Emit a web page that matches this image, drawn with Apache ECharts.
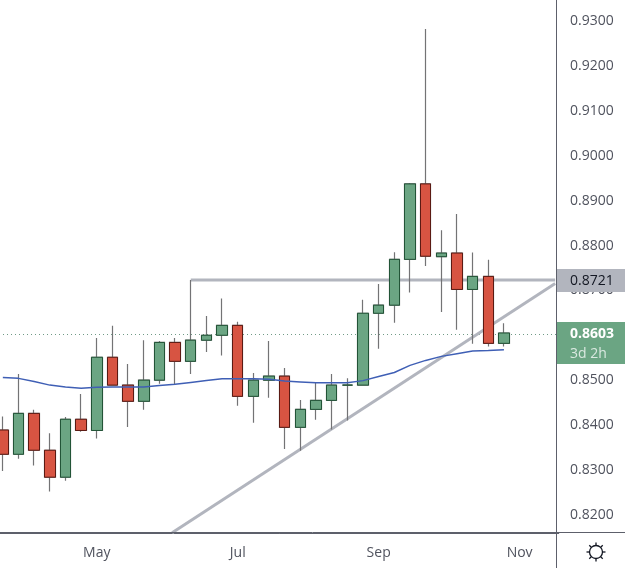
<!DOCTYPE html>
<html>
<head>
<meta charset="utf-8">
<style>html,body{margin:0;padding:0;background:#fff}#c{width:625px;height:568px}</style>
<script src="https://cdn.jsdelivr.net/npm/echarts@6/dist/echarts.min.js"></script>
</head>
<body>
<div id="c"></div>
<script>
const weeks = ["Mar 21","Mar 28","Apr 4","Apr 11","Apr 18","Apr 25","May 2","May 9","May 16","May 23","May 30","Jun 6","Jun 13","Jun 20","Jun 27","Jul 4","Jul 11","Jul 18","Jul 25","Aug 1","Aug 8","Aug 15","Aug 22","Aug 29","Sep 5","Sep 12","Sep 19","Sep 26","Oct 3","Oct 10","Oct 17","Oct 24","Oct 31","Nov 7","Nov 14","Nov 21"];
const monthTicks = {"May 2":"May","Jul 4":"Jul","Sep 5":"Sep","Nov 7":"Nov"};
const priceTicks = [0.82,0.83,0.84,0.85,0.86,0.87,0.88,0.89,0.90,0.91,0.92,0.93];

const opens  = [.8387,.8333,.8424,.8342,.8282,.8411,.8386,.8549,.8487,.8451,.8498,.8582,.8540,.8587,.8598,.8620,.8462,.8498,.8507,.8393,.8433,.8453,.8487,.8487,.8647,.8665,.8767,.8935,.8773,.8781,.8700,.8729,.8580];
const closes = [.8333,.8424,.8342,.8282,.8411,.8386,.8549,.8487,.8451,.8498,.8582,.8540,.8587,.8598,.8620,.8462,.8498,.8507,.8393,.8433,.8453,.8487,.8487,.8647,.8665,.8767,.8935,.8774,.8781,.8700,.8729,.8580,.8603];
const lows   = [.8296,.8323,.8308,.8250,.8274,.8383,.8368,.8487,.8394,.8432,.8490,.8487,.8512,.8561,.8553,.8441,.8403,.8459,.8345,.8341,.8410,.8388,.8408,.8487,.8568,.8626,.8693,.8752,.8650,.8610,.8579,.8573,.8573];
const highs  = [.8417,.8512,.8432,.8380,.8416,.8467,.8592,.8619,.8534,.8587,.8585,.8592,.8721,.8641,.8680,.8628,.8514,.8585,.8525,.8454,.8492,.8512,.8502,.8677,.8712,.8783,.8937,.9280,.8832,.8868,.8782,.8766,.8625];
const movingAvg = [.8504,.8502,.8495,.8487,.8483,.8480,.8482,.8483,.8483,.8483,.8486,.8489,.8493,.8497,.8501,.8501,.8501,.8500,.8496,.8494,.8492,.8492,.8492,.8497,.8506,.8515,.8531,.8542,.8551,.8557,.8563,.8564,.8566];
const resistanceX = [12,35.27];
const resistanceY = [.8721,.8721];
const trendX = [10.81,35.27];
const trendY = [.8158,.8713];
const lastPrice = 0.8603;
const resistanceLabel = "0.8721";
const lastLabel = "0.8603";
const countdownLabel = "3d 2h";

const FONT = '"Open Sans", sans-serif';
const AXIS = '#50535E';
const FRAME = '#5d606b';
const GREY = '#B2B5BE';
const GREEN = '#6BA583';
const RED = '#D75442';

const ohlc = opens.map((o,i)=>[o,closes[i],lows[i],highs[i]]);
const bodies = opens.map((o,i)=>[o,closes[i],Math.min(o,closes[i]),Math.max(o,closes[i])]);
const pairs = (xs,ys)=>xs.map((x,i)=>[x,ys[i]]);

const rays = [];
for (let k=0;k<8;k++){
  const a=k*Math.PI/4;
  rays.push({type:'line',z:100,shape:{x1:596+6.5*Math.cos(a),y1:552+6.5*Math.sin(a),x2:596+9.5*Math.cos(a),y2:552+9.5*Math.sin(a)},style:{stroke:'#131722',lineWidth:1.3}});
}

const chart = echarts.init(document.getElementById('c'),null,{renderer:'canvas'});
chart.setOption({
  animation:false,
  backgroundColor:'#ffffff',
  grid:{left:-5,top:0,width:563.76,height:533,containLabel:false,outerBoundsMode:'none'},
  xAxis:[
    {type:'category',data:weeks,boundaryGap:true,
     axisLine:{show:true,onZero:false,lineStyle:{color:FRAME,width:1}},
     axisTick:{show:false},splitLine:{show:false},
     axisLabel:{interval:0,hideOverlap:false,margin:13,color:AXIS,fontFamily:FONT,fontSize:14,
       formatter:v=>monthTicks[v]||''}},
    {type:'value',min:-0.5,max:35.5,show:false}
  ],
  yAxis:[{type:'value',position:'right',offset:-2.76,min:0.81577,max:0.93445,
    axisLine:{show:true,onZero:false,lineStyle:{color:FRAME,width:1}},
    axisTick:{show:false},splitLine:{show:false},
    axisLabel:{customValues:priceTicks,margin:14,color:AXIS,fontFamily:FONT,fontSize:14,
      verticalAlign:'top',lineHeight:2,showMinLabel:true,showMaxLabel:true,formatter:v=>v.toFixed(4)}}],
  series:[
    {type:'line',name:'Resistance',xAxisIndex:1,data:pairs(resistanceX,resistanceY),symbol:'none',z:2,
     lineStyle:{color:GREY,width:3}},
    {type:'line',name:'Trend',xAxisIndex:1,data:pairs(trendX,trendY),symbol:'none',z:2,
     lineStyle:{color:GREY,width:3}},
    {type:'candlestick',name:'Range',data:ohlc,barWidth:11,z:3,
     itemStyle:{color:GREEN,color0:RED,borderColor:'#737375',borderColor0:'#737375',borderColorDoji:'#737375',borderWidth:1.2},
     markLine:{silent:true,symbol:'none',z:1,label:{show:false},
       lineStyle:{color:'#6f9a86',type:[1,3],width:1},
       data:[{yAxis:lastPrice}]}},
    {type:'candlestick',name:'Body',data:bodies,barWidth:11,z:4,
     itemStyle:{color:GREEN,color0:RED,borderColor:'#225437',borderColor0:'#5B1A13',borderColorDoji:'#225437',borderWidth:1}},
    {type:'line',name:'MA',data:movingAvg,symbol:'none',z:5,smooth:false,
     lineStyle:{color:'#3F5FB5',width:1.5}}
  ],
  graphic:[
    {type:'line',z:90,shape:{x1:556.5,y1:0,x2:556.5,y2:568},style:{stroke:FRAME,lineWidth:1}},
    {type:'line',z:90,shape:{x1:0,y1:532.5,x2:625,y2:532.5},style:{stroke:FRAME,lineWidth:1}},
    {type:'rect',z:100,shape:{x:557,y:269,width:68,height:23},style:{fill:GREY}},
    {type:'text',z:101,x:570,y:281,style:{text:resistanceLabel,fill:'#131722',font:'14px '+FONT,verticalAlign:'middle',textAlign:'left'}},
    {type:'rect',z:100,shape:{x:557,y:322,width:68,height:42},style:{fill:GREEN}},
    {type:'text',z:101,x:570,y:334,style:{text:lastLabel,fill:'#ffffff',font:'bold 14px '+FONT,verticalAlign:'middle',textAlign:'left'}},
    {type:'text',z:101,x:570,y:354,style:{text:countdownLabel,fill:'rgba(255,255,255,0.75)',font:'14px '+FONT,verticalAlign:'middle',textAlign:'left'}},
    {type:'circle',z:100,shape:{cx:596,cy:552,r:6.5},style:{fill:'none',stroke:'#131722',lineWidth:1.3}},
    ...rays
  ]
});
</script>
</body>
</html>
